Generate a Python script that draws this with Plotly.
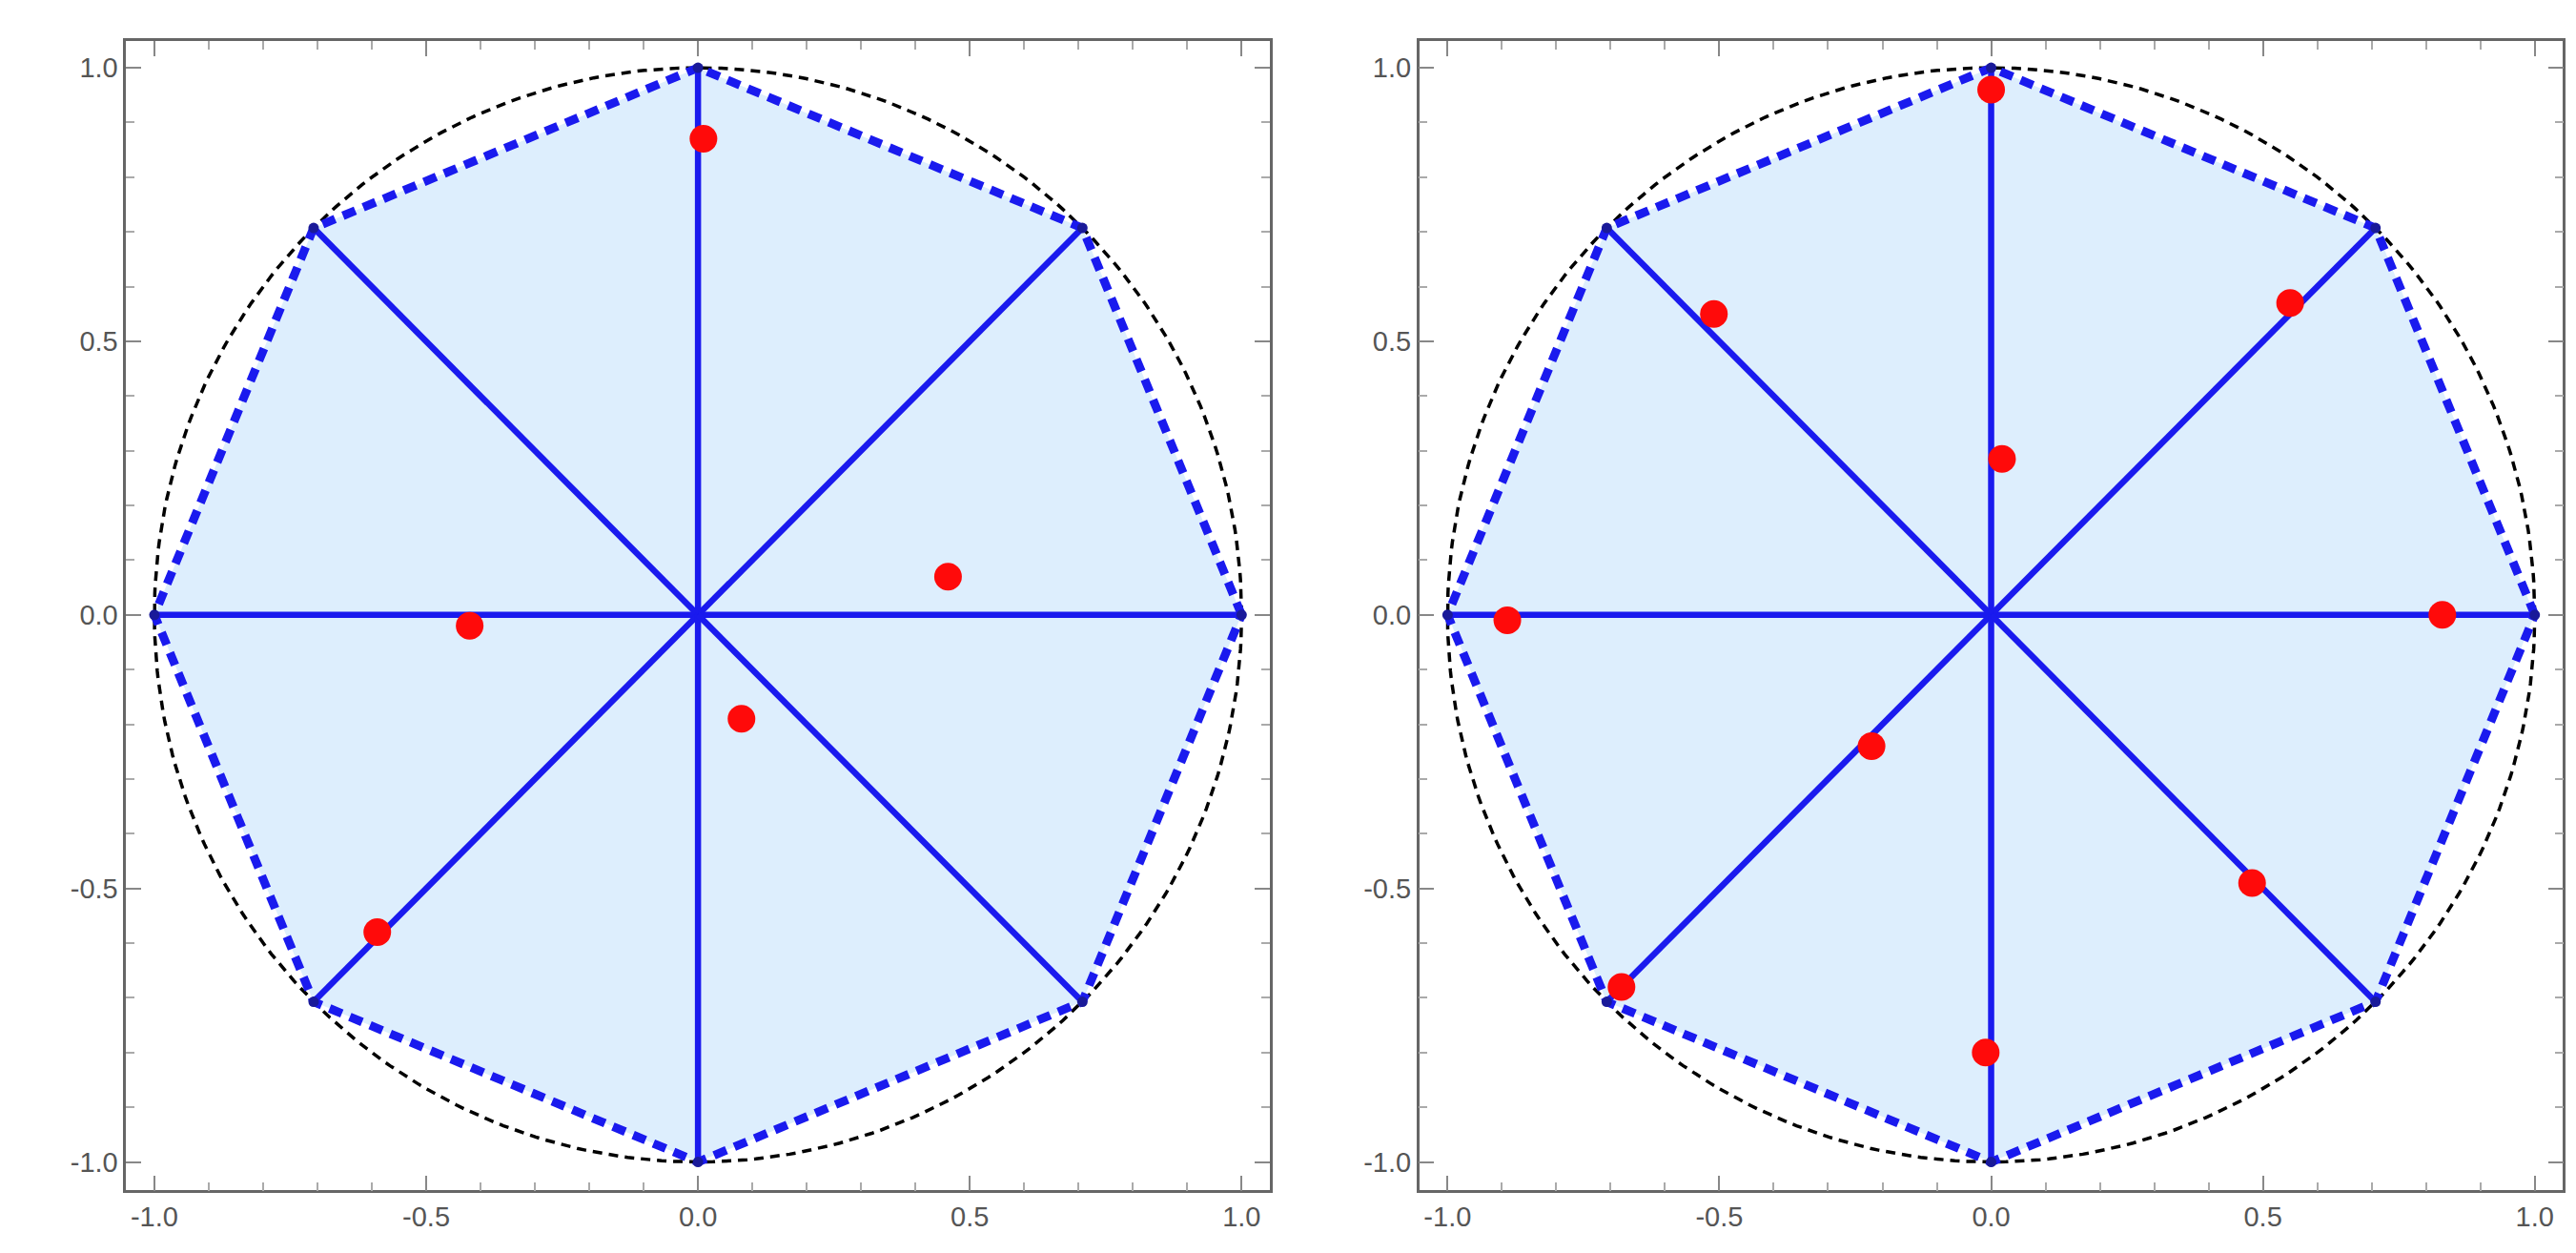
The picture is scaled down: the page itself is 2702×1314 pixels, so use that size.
import numpy as np
import plotly.graph_objects as go

angles_deg = [0, 45, 90, 135, 180, 225, 270, 315]
left_x = [0.01, 0.46, -0.42, 0.08, -0.59]
left_y = [0.87, 0.07, -0.02, -0.19, -0.58]
right_x = [0.0, 0.55, -0.51, 0.02, -0.89, 0.83, -0.22, 0.48, -0.68, -0.01]
right_y = [0.96, 0.57, 0.55, 0.285, -0.01, 0.0, -0.24, -0.49, -0.68, -0.80]
tick_vals = [-1.0, -0.5, 0.0, 0.5, 1.0]
tick_text = ["-1.0", "-0.5", "0.0", "0.5", "1.0"]

fig = go.Figure()
th = np.radians(angles_deg)
vx, vy = np.cos(th), np.sin(th)
t = np.linspace(0, 2*np.pi, 400)

for i, (px, py) in enumerate([(left_x, left_y), (right_x, right_y)]):
    xa = "x" if i == 0 else "x2"
    ya = "y" if i == 0 else "y2"
    fig.add_trace(go.Scatter(x=list(vx)+[vx[0]], y=list(vy)+[vy[0]], fill="toself",
                             fillcolor="#ddeefd", mode="none", xaxis=xa, yaxis=ya, showlegend=False))
    fig.add_trace(go.Scatter(x=np.cos(t), y=np.sin(t), mode="lines",
                             line=dict(color="black", width=3.5, dash="10px,7px"), xaxis=xa, yaxis=ya, showlegend=False))
    fig.add_trace(go.Scatter(x=list(vx)+[vx[0]], y=list(vy)+[vy[0]], mode="lines",
                             line=dict(color="#1a1aee", width=9, dash="14px,9px"), xaxis=xa, yaxis=ya, showlegend=False))
    sx, sy = [], []
    for a, b in zip(vx, vy):
        sx += [0, a, None]; sy += [0, b, None]
    fig.add_trace(go.Scatter(x=sx, y=sy, mode="lines", line=dict(color="#1a1aee", width=6.5),
                             xaxis=xa, yaxis=ya, showlegend=False))
    fig.add_trace(go.Scatter(x=vx, y=vy, mode="markers", marker=dict(color="#1a1a99", size=11),
                             xaxis=xa, yaxis=ya, showlegend=False))
    fig.add_trace(go.Scatter(x=px, y=py, mode="markers", marker=dict(color="#ff0a0a", size=29),
                             xaxis=xa, yaxis=ya, showlegend=False))

ax = dict(range=[-1.052, 1.052], tickvals=tick_vals, ticktext=tick_text, ticks="inside",
          ticklen=16, tickwidth=2, tickcolor="#888", showline=True, linecolor="#666", linewidth=2.5, mirror="ticks",
          showgrid=False, zeroline=False, tickfont=dict(size=29, color="#555", family="Liberation Sans"),
          minor=dict(dtick=0.1, ticks="inside", ticklen=9, tickwidth=1.5, tickcolor="#aaa"))
axy = dict(ax, range=[-1.052, 1.048])
fig.update_layout(
    width=2702, height=1314, margin=dict(l=0, r=0, t=0, b=0),
    plot_bgcolor="white", paper_bgcolor="white",
    xaxis=dict(ax, domain=[0.046, 0.490], anchor="y"),
    yaxis=dict(axy, domain=[0.056, 0.973], anchor="x"),
    xaxis2=dict(ax, domain=[0.548, 0.992], anchor="y2"),
    yaxis2=dict(axy, domain=[0.056, 0.973], anchor="x2"),
)
fig.write_html("out.html")
